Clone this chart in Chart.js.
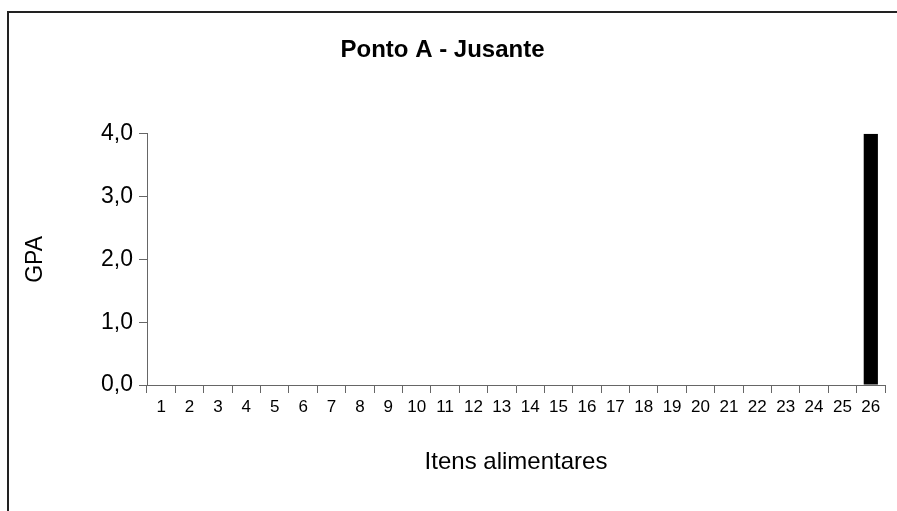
<!DOCTYPE html>
<html>
<head>
<meta charset="utf-8">
<script src="https://cdn.jsdelivr.net/npm/chart.js@4.4.1/dist/chart.umd.min.js"></script>
<style>
  html, body { margin: 0; padding: 0; background: #fff; }
  #wrap { width: 897px; height: 511px; position: relative; }
</style>
</head>
<body>
<div id="wrap"><canvas id="gpaChart"></canvas></div>
<script>
// data
var itens = ['1','2','3','4','5','6','7','8','9','10','11','12','13','14','15','16','17','18','19','20','21','22','23','24','25','26'];
var gpa = [0,0,0,0,0,0,0,0,0,0,0,0,0,0,0,0,0,0,0,0,0,0,0,0,0,4.0];
var yTicks = [0, 1, 2, 3, 4];

var fonte = "'Liberation Sans', Arial, sans-serif";

// frame line on the left and top, like the excel chart border
var moldura = {
    id: 'moldura',
    beforeDraw: function(chart) {
        var ctx = chart.ctx;
        ctx.save();
        ctx.fillStyle = '#fff';
        ctx.fillRect(0, 0, chart.width, chart.height);
        ctx.strokeStyle = '#222';
        ctx.lineWidth = 2;
        ctx.beginPath();
        ctx.moveTo(8, chart.height);
        ctx.lineTo(8, 12);
        ctx.lineTo(chart.width, 12);
        ctx.stroke();
        ctx.restore();
    }
};

var ctx = document.getElementById('gpaChart').getContext('2d');
var chart = new Chart(ctx, {
    type: 'bar',
    data: {
        labels: itens,
        datasets: [{
            data: gpa,
            backgroundColor: '#000',
            borderWidth: 0,
            barPercentage: 0.5,
            categoryPercentage: 1.0
        }]
    },
    options: {
        responsive: true,
        maintainAspectRatio: false,
        animation: false,
        layout: { padding: { left: 0, right: 12, top: 0, bottom: 0 } },
        plugins: {
            legend: { display: false },
            tooltip: { enabled: false },
            title: {
                display: true,
                text: 'Ponto A - Jusante',
                color: '#000',
                font: { family: fonte, size: 24, weight: 'bold' },
                padding: { top: 36, bottom: 69 }
            }
        },
        scales: {
            x: {
                grid: { drawOnChartArea: false, drawTicks: true, tickLength: 8, color: '#666' },
                border: { color: '#666', width: 1 },
                ticks: {
                    color: '#000',
                    font: { family: fonte, size: 17 },
                    maxRotation: 0,
                    autoSkip: false,
                    padding: 4
                },
                title: {
                    display: true,
                    text: 'Itens alimentares',
                    color: '#000',
                    font: { family: fonte, size: 24 },
                    padding: { top: 0, bottom: 34 }
                },
                afterFit: function(scale) { scale.height = 126; }
            },
            y: {
                min: 0,
                max: 4,
                afterBuildTicks: function(scale) {
                    scale.ticks = yTicks.map(function(v) { return { value: v }; });
                },
                grid: { drawOnChartArea: false, drawTicks: true, tickLength: 8, color: '#666' },
                border: { color: '#666', width: 1 },
                ticks: {
                    color: '#000',
                    font: { family: fonte, size: 23 },
                    padding: 6,
                    callback: function(v) { return v.toFixed(1).replace('.', ','); }
                },
                title: {
                    display: true,
                    text: 'GPA',
                    color: '#000',
                    font: { family: fonte, size: 23 },
                    padding: { top: 22, bottom: 0 }
                },
                afterFit: function(scale) { scale.width = 147; }
            }
        }
    },
    plugins: [moldura]
});
</script>
</body>
</html>
